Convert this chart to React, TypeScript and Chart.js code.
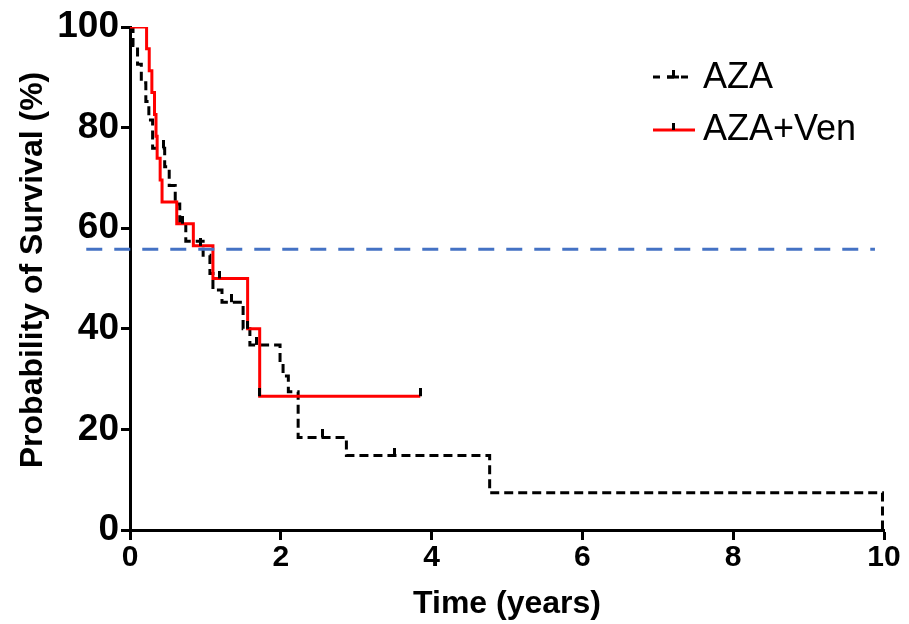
import { useEffect, useRef } from 'react';
import { Chart, registerables } from 'chart.js';

Chart.register(...registerables);

// AZA (black dashed) Kaplan-Meier steps: time in years, survival in %
const azaTimes = [0, 0.04, 0.10, 0.15, 0.21, 0.25, 0.30, 0.46, 0.52, 0.60, 0.66, 0.74, 0.97, 1.06, 1.10, 1.22, 1.50, 1.59, 1.99, 2.03, 2.10, 2.23, 2.87, 4.77, 9.98];
const azaSurvival = [100, 96.3, 92.6, 88.9, 85.2, 81.5, 75.9, 72.2, 68.5, 64.8, 61.1, 57.4, 54.6, 51.0, 47.7, 45.3, 40.0, 36.8, 33.7, 30.6, 27.5, 18.4, 14.8, 7.4, 0];
const azaCensorTimes = [0.44, 1.35, 1.68, 2.55, 3.51];
const azaCensorValues = [75.9, 45.3, 36.8, 18.4, 14.8];

// AZA+Ven (red solid)
const venTimes = [0, 0.22, 0.255, 0.29, 0.325, 0.345, 0.36, 0.40, 0.425, 0.62, 0.84, 1.10, 1.56, 1.72, 3.85];
const venSurvival = [100, 95.7, 91.3, 87.0, 82.6, 78.3, 73.9, 69.6, 65.2, 60.9, 56.5, 50.0, 40.0, 26.6, 26.6];
const venCensorTimes = [0.70, 0.93, 1.19, 1.56, 1.72, 3.85];
const venCensorValues = [60.9, 56.5, 50.0, 40.0, 26.6, 26.6];

// Reference line (blue dashed)
const refLineX = [-0.58, 9.88];
const refLineY = 55.8;

const xTicks = [0, 2, 4, 6, 8, 10];
const yTicks = [0, 20, 40, 60, 80, 100];
const seriesNames = ['AZA', 'AZA+Ven'];
const xTitle = 'Time (years)';
const yTitle = 'Probability of Survival (%)';

const FONT = '"Liberation Sans", Arial, Helvetica, sans-serif';

function toPoints(xs: number[], ys: number[]) {
  return xs.map((x, i) => ({ x, y: ys[i] }));
}

function makeTick(color: string) {
  const c = document.createElement('canvas');
  c.width = 3;
  c.height = 16;
  const g = c.getContext('2d')!;
  g.fillStyle = color;
  g.fillRect(0, 0, 3, 8);
  return c;
}

const legendPlugin = {
  id: 'kmLegend',
  afterDraw(chart: any) {
    const ctx = chart.ctx as CanvasRenderingContext2D;
    ctx.save();
    ctx.lineWidth = 3;
    // AZA sample
    ctx.strokeStyle = '#000';
    ctx.setLineDash([7, 7]);
    ctx.beginPath();
    ctx.moveTo(653, 77);
    ctx.lineTo(695, 77);
    ctx.stroke();
    ctx.setLineDash([]);
    ctx.beginPath();
    ctx.moveTo(667, 77);
    ctx.lineTo(679, 77);
    ctx.stroke();
    ctx.fillStyle = '#000';
    ctx.fillRect(672, 70, 3, 7);
    // AZA+Ven sample
    ctx.strokeStyle = '#ff0000';
    ctx.beginPath();
    ctx.moveTo(653, 130);
    ctx.lineTo(695, 130);
    ctx.stroke();
    ctx.fillStyle = '#000';
    ctx.fillRect(672, 123, 3, 7);
    // texts
    ctx.font = `36px ${FONT}`;
    ctx.textBaseline = 'middle';
    ctx.textAlign = 'left';
    ctx.fillStyle = '#000';
    ctx.fillText(seriesNames[0], 703, 78);
    ctx.fillText(seriesNames[1], 703, 130);
    // y axis title
    ctx.translate(33, 270);
    ctx.rotate(-Math.PI / 2);
    ctx.font = `bold 32px ${FONT}`;
    ctx.textAlign = 'center';
    ctx.fillText(yTitle, 0, 0);
    ctx.restore();
  },
};

export default function App() {
  const ref = useRef<HTMLCanvasElement | null>(null);

  useEffect(() => {
    document.body.style.margin = '0';
    const canvas = ref.current!;
    const tickImg = makeTick('#000');
    const chart = new Chart(canvas, {
      type: 'line',
      data: {
        datasets: [
          {
            label: 'ref',
            data: refLineX.map((x) => ({ x, y: refLineY })),
            borderColor: '#4472C4',
            borderWidth: 3,
            borderDash: [16, 12],
            pointRadius: 0,
            clip: false as any,
            order: 0,
          },
          {
            label: 'venCensor',
            data: toPoints(venCensorTimes, venCensorValues),
            showLine: false,
            pointStyle: tickImg as any,
            pointRadius: 4,
            order: 1,
          },
          {
            label: 'azaCensor',
            data: toPoints(azaCensorTimes, azaCensorValues),
            showLine: false,
            pointStyle: tickImg as any,
            pointRadius: 4,
            order: 1,
          },
          {
            label: seriesNames[1],
            data: toPoints(venTimes, venSurvival),
            borderColor: '#ff0000',
            borderWidth: 3,
            stepped: 'before',
            pointRadius: 0,
            order: 2,
          },
          {
            label: seriesNames[0],
            data: toPoints(azaTimes, azaSurvival),
            borderColor: '#000',
            borderWidth: 3,
            borderDash: [9, 5],
            stepped: 'before',
            pointRadius: 0,
            order: 3,
          },
        ],
      },
      options: {
        animation: false,
        responsive: false,
        maintainAspectRatio: false,
        layout: { padding: { top: 27, right: 25, bottom: 0, left: 0 } },
        plugins: {
          legend: { display: false },
          tooltip: { enabled: false },
        },
        scales: {
          x: {
            type: 'linear',
            min: 0,
            max: 10,
            afterBuildTicks: (scale: any) => {
              scale.ticks = xTicks.map((v) => ({ value: v }));
            },
            afterFit: (scale: any) => {
              scale.height = 94;
            },
            ticks: {
              color: '#000',
              font: { family: FONT, size: 30, weight: 'bold' },
              padding: 0,
              maxRotation: 0,
              autoSkip: false,
            },
            grid: {
              drawOnChartArea: false,
              drawTicks: true,
              tickLength: 10,
              tickWidth: 3,
              color: '#000',
            },
            border: { display: true, color: '#000', width: 3 },
            title: {
              display: true,
              text: xTitle,
              color: '#000',
              font: { family: FONT, size: 32, weight: 'bold' },
              padding: { top: 0, bottom: 1 },
            },
          },
          y: {
            type: 'linear',
            min: 0,
            max: 100,
            afterBuildTicks: (scale: any) => {
              scale.ticks = yTicks.map((v) => ({ value: v }));
            },
            afterFit: (scale: any) => {
              scale.width = 130;
            },
            ticks: {
              color: '#000',
              font: { family: FONT, size: 37, weight: 'bold' },
              padding: 2,
              autoSkip: false,
            },
            grid: {
              drawOnChartArea: false,
              drawTicks: true,
              tickLength: 9,
              tickWidth: 3,
              color: '#000',
            },
            border: { display: true, color: '#000', width: 3 },
            title: { display: false },
          },
        },
      },
      plugins: [legendPlugin],
    });
    return () => chart.destroy();
  }, []);

  return (
    <div style={{ width: 909, height: 624 }}>
      <canvas ref={ref} width={909} height={624} style={{ display: 'block', width: 909, height: 624 }} />
    </div>
  );
}
